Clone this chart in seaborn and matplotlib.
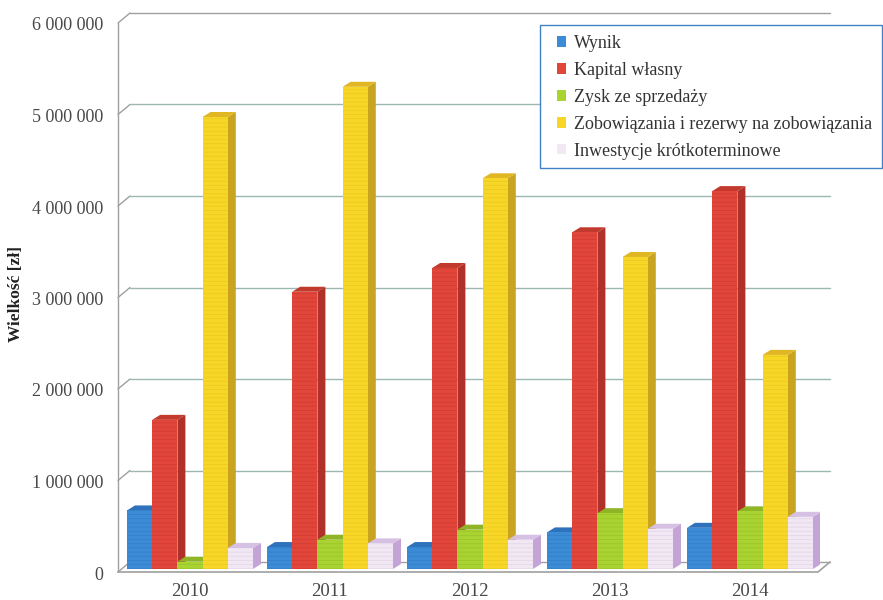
import numpy as np
import pandas as pd
import seaborn as sns
import matplotlib
matplotlib.use("Agg")
import matplotlib.pyplot as plt
from matplotlib.patches import Polygon, Patch, Rectangle
from matplotlib.lines import Line2D
from matplotlib.ticker import FuncFormatter
from matplotlib.transforms import ScaledTranslation

# ---------------- data ----------------
years = ["2010", "2011", "2012", "2013", "2014"]
series_names = [
    "Wynik",
    "Kapital własny",
    "Zysk ze sprzedaży",
    "Zobowiązania i rezerwy na zobowiązania",
    "Inwestycje krótkoterminowe",
]
wynik = [640000, 240000, 240000, 400000, 450000]
kapital = [1630000, 3030000, 3290000, 3680000, 4130000]
zysk = [80000, 320000, 430000, 610000, 630000]
zobowiazania = [4940000, 5270000, 4270000, 3410000, 2340000]
inwestycje = [230000, 280000, 320000, 440000, 570000]
y_ticks = [0, 1000000, 2000000, 3000000, 4000000, 5000000, 6000000]

front_colors = ["#3b8bd6", "#e2463a", "#a9d330", "#f7d628", "#f2e8f4"]
side_colors = ["#2a64a6", "#b0302a", "#7fa222", "#c9a420", "#c4a4d6"]
top_colors = ["#2f72bc", "#c23a2e", "#8fb526", "#e0b622", "#d6c0e4"]
stripe_colors = ["#3580c8", "#d23d33", "#9cc52a", "#eccb22", "#e4d6ea"]

values = [wynik, kapital, zysk, zobowiazania, inwestycje]
rows = []
for name, vals in zip(series_names, values):
    for yr, v in zip(years, vals):
        rows.append({"Rok": yr, "Wartość": v, "Seria": name})
df = pd.DataFrame(rows)

# ---------------- style ----------------
sns.set_style("white")
plt.rcParams["font.family"] = ["Liberation Serif", "DejaVu Serif"]
plt.rcParams["hatch.linewidth"] = 0.6

W, H = 883, 600
fig = plt.figure(figsize=(W / 100, H / 100), dpi=100)
ax_l, ax_r, ax_b, ax_t = 120, 820, 569, 20
ax = fig.add_axes([ax_l / W, (H - ax_b) / H, (ax_r - ax_l) / W, (ax_b - ax_t) / H])

sns.barplot(data=df, x="Rok", y="Wartość", hue="Seria", hue_order=series_names,
            palette=front_colors, width=0.9, saturation=1, ax=ax, legend=False,
            linewidth=0, errorbar=None)

ax.set_xlim(-0.5, 4.5)
ax.set_ylim(0, 6000000)
for s in ax.spines.values():
    s.set_visible(False)
ax.set_facecolor("none")
ax.grid(False)

# pixel -> data conversion
sx = (ax_r - ax_l) / 5.0
sy = (ax_b - ax_t) / 6000000.0
def off(x, y, px, py):
    return (x + px / sx, y + py / sy)

# 3D bar faces
BDX, BDY = 8, 5
bars = []
for cont, fc, sc, tc, stc in zip(ax.containers, front_colors, side_colors, top_colors, stripe_colors):
    for p in cont.patches:
        bars.append((p.get_x(), p, fc, sc, tc, stc))
bars.sort(key=lambda b: b[0])
for k, (x0, p, fc, sc, tc, stc) in enumerate(bars):
    w = p.get_width()
    h = p.get_height()
    z = 3 + k * 0.01
    x1 = x0 + w
    dxd, dyd = BDX / sx, BDY / sy
    side = Polygon([(x1, 0), (x1 + dxd, dyd), (x1 + dxd, h + dyd), (x1, h)],
                   closed=True, facecolor=sc, edgecolor="none", zorder=z)
    top = Polygon([(x0, h), (x0 + dxd, h + dyd), (x1 + dxd, h + dyd), (x1, h)],
                  closed=True, facecolor=tc, edgecolor="none", zorder=z)
    ax.add_patch(side)
    ax.add_patch(top)
    p.set_zorder(z + 0.005)
    p.set_hatch("----")
    p.set_edgecolor(stc)
    p.set_linewidth(0)

# walls / gridlines
FX, FY = -2, -3
BX, BY = 10, 7
grid_col = "#9db8b2"
wall_col = "#a0a0a0"
for v in y_ticks:
    fx, fy = off(-0.5, v, FX, FY)
    bx, by = off(-0.5, v, BX, BY)
    ex, ey = off(4.5, v, BX, BY)
    col = wall_col if v in (0, 6000000) else grid_col
    ax.add_line(Line2D([fx, bx], [fy, by], color=wall_col, lw=1.0, clip_on=False, zorder=1))
    ax.add_line(Line2D([bx, ex], [by, ey], color=col, lw=1.0, clip_on=False, zorder=1))
f0 = off(-0.5, 0, FX, FY)
f6 = off(-0.5, 6000000, FX, FY)
ax.add_line(Line2D([f0[0], f6[0]], [f0[1], f6[1]], color=wall_col, lw=1.0, clip_on=False, zorder=1))
fr = off(4.5, 0, FX, FY)
br = off(4.5, 0, BX, BY)
ax.add_line(Line2D([f0[0], fr[0], br[0]], [f0[1], fr[1], br[1]], color=wall_col, lw=1.2,
                   clip_on=False, zorder=50))

# ticks
ax.set_yticks(y_ticks)
ax.yaxis.set_major_formatter(FuncFormatter(lambda v, pos: f"{int(v):,}".replace(",", " ")))
ax.tick_params(axis="y", length=0, pad=12, labelsize=13, labelcolor="#484848")
ax.tick_params(axis="x", length=0, pad=10, labelsize=13.5, labelcolor="#484848")
shift = ScaledTranslation(0, -4 / 100, fig.dpi_scale_trans)
for lab in ax.get_yticklabels():
    lab.set_transform(lab.get_transform() + shift)
ax.set_xlabel("")
ax.set_ylabel("Wielkość [zł]", fontsize=12.5, fontweight="bold", color="#222222")
ax.yaxis.set_label_coords((24 - ax_l) / (ax_r - ax_l), 0.5)

# legend (frame drawn separately)
fig.patches.append(Rectangle((540 / W, 1 - 168 / H), (882 - 540) / W, (168 - 25) / H,
                             transform=fig.transFigure, facecolor="white",
                             edgecolor="#3f80c6", linewidth=1.0, zorder=10))
handles = [Patch(facecolor=c, edgecolor="none") for c in front_colors]
leg = fig.legend(handles, series_names, loc="upper left",
                 bbox_to_anchor=(557 / W, 1 - 35 / H), bbox_transform=fig.transFigure,
                 fontsize=13, frameon=False, borderpad=0,
                 handlelength=0.5, handleheight=0.5, handletextpad=0.45,
                 labelspacing=0.55, borderaxespad=0)
leg.set_zorder(11)
for t in leg.get_texts():
    t.set_color("#333333")

fig.savefig("out.png", dpi=100)
